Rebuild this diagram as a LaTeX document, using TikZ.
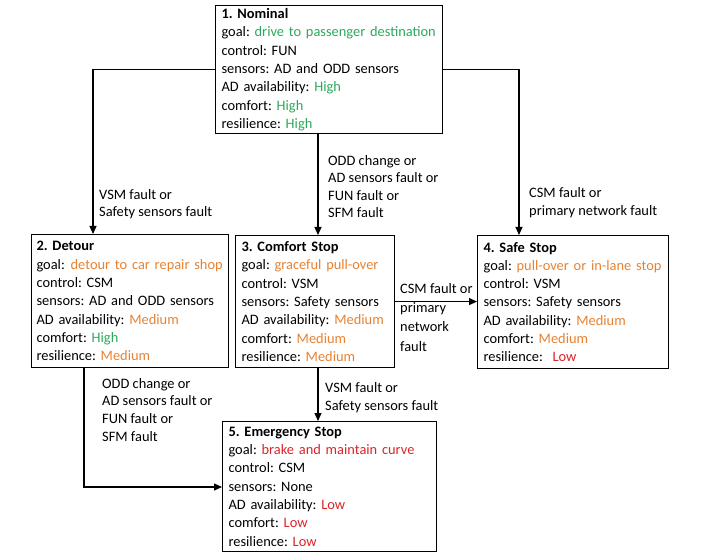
\documentclass[tikz,border=0pt]{standalone}
\usepackage{fontspec}
\setmainfont{Carlito}
\frenchspacing
\hyphenpenalty=10000
\usetikzlibrary{arrows.meta}
\definecolor{cgreen}{RGB}{44,168,92}
\definecolor{corange}{RGB}{230,130,50}
\definecolor{cred}{RGB}{218,36,40}
\begin{document}
\begin{tikzpicture}[x=1pt,y=-1pt,
  box/.style={draw, line width=1.1pt, anchor=north west, align=left, inner xsep=6pt, inner ysep=3pt,
              font=\fontsize{14.4}{18.3}\selectfont},
  lbl/.style={anchor=base west, align=left, inner sep=0pt, font=\fontsize{14.4}{17.6}\selectfont},
  lblb/.style={lbl, font=\fontsize{14.4}{19.3}\selectfont},
  arr/.style={line width=1.1pt, -{Triangle[length=8pt,width=7pt]}}]
\useasboundingbox (0,0) rectangle (720,556);

\node[box, text width=215pt, minimum height=127pt] (b1) at (215,5)
  {\textbf{1. Nominal}\\
   goal: \textcolor{cgreen}{drive to passenger destination}\\
   control: FUN\\
   sensors: AD and ODD sensors\\
   AD availability: \textcolor{cgreen}{High}\\
   comfort: \textcolor{cgreen}{High}\\
   resilience: \textcolor{cgreen}{High}};

\node[box, text width=187pt, inner xsep=5pt, minimum height=133pt] (b2) at (31,234)
  {\textbf{2. Detour}\\
   \mbox{goal:\hspace{1pt} \textcolor{corange}{detour to car repair shop}}\\
   control: CSM\\
   sensors: AD and ODD sensors\\
   AD availability: \textcolor{corange}{Medium}\\
   comfort: \textcolor{cgreen}{High}\\
   resilience: \textcolor{corange}{Medium}};

\node[box, text width=147pt, minimum height=132pt] (b3) at (235,235)
  {\textbf{3. Comfort Stop}\\
   goal: \textcolor{corange}{graceful pull-over}\\
   control: VSM\\
   sensors: Safety sensors\\
   AD availability: \textcolor{corange}{Medium}\\
   comfort: \textcolor{corange}{Medium}\\
   resilience: \textcolor{corange}{Medium}};

\node[box, text width=179pt, minimum height=133pt] (b4) at (477,235)
  {\textbf{4. Safe Stop}\\
   goal: \textcolor{corange}{pull-over or in-lane stop}\\
   control: VSM\\
   sensors: Safety sensors\\
   AD availability: \textcolor{corange}{Medium}\\
   comfort: \textcolor{corange}{Medium}\\
   resilience:\ \ \textcolor{cred}{Low}};

\node[box, text width=202pt, minimum height=130pt] (b5) at (222,421)
  {\textbf{5. Emergency Stop}\\
   goal: \textcolor{cred}{brake and maintain curve}\\
   control: CSM\\
   sensors: None\\
   AD availability: \textcolor{cred}{Low}\\
   comfort: \textcolor{cred}{Low}\\
   resilience: \textcolor{cred}{Low}};

\coordinate (m1) at ([xshift=103pt]b1.south west);
\coordinate (m3) at ([xshift=83pt]b3.south west);
\coordinate (m2) at ([xshift=53pt]b2.south west);
\coordinate (m5) at ([yshift=-66pt]b5.north west);

\draw[arr] (b1.west) -| ([xshift=62pt]b2.north west);
\draw[arr] (b1.east) -| ([xshift=42pt]b4.north west);
\draw[arr] (m1) -- (m1 |- b3.north);
\draw[arr] (b3.east) -- (b3.east -| b4.west);
\draw[arr] (m3) -- (m3 |- b5.north);
\draw[arr] (m2) |- (m5);

\node[lbl] (l1) at (99,217) {VSM fault or\\Safety sensors fault};
\node[lbl] (l2) at (328,218) {ODD change or\\AD sensors fault or\\FUN fault or\\SFM fault};
\node[lbl] (l3) at (529,215) {CSM fault or\\primary network fault};
\node[lblb] (l4) at (400,351) {CSM fault or\\primary\\network\\fault};
\node[lbl] (l5) at (325,410) {VSM fault or\\Safety sensors fault};
\node[lbl] (l6) at (102,441) {ODD change or\\AD sensors fault or\\FUN fault or\\SFM fault};
\end{tikzpicture}
\end{document}
